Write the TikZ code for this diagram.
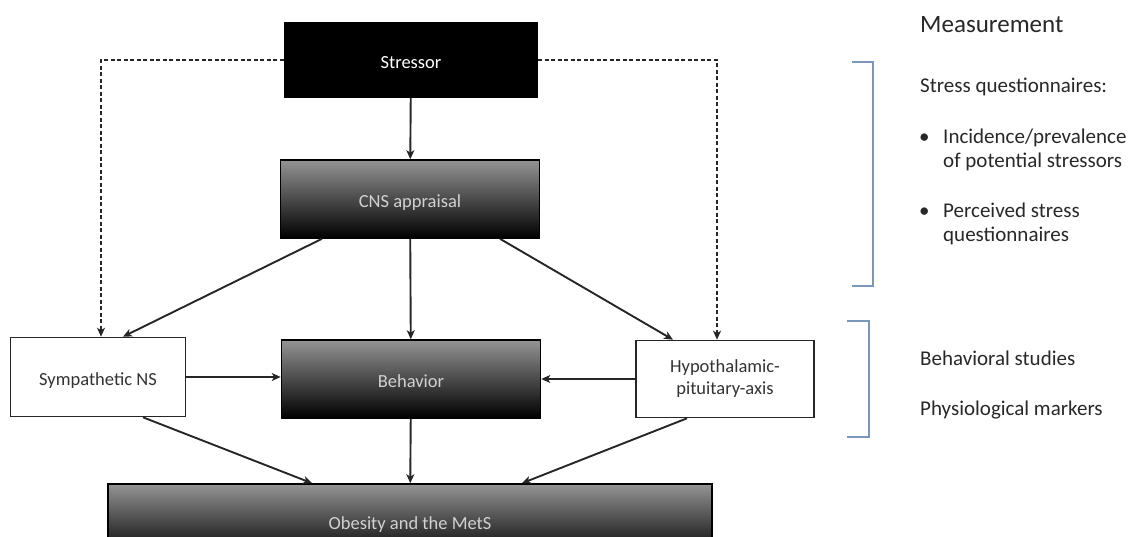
\documentclass[tikz,border=0pt]{standalone}
\usepackage{fontspec}
\setmainfont{Carlito}
\usepackage{tikz}
\usetikzlibrary{arrows.meta,positioning}
\definecolor{brackblue}{RGB}{120,150,190}
\definecolor{sidetext}{RGB}{40,40,40}

\begin{document}
\begin{tikzpicture}[x=1pt,y=-1pt,
  every node/.style={inner sep=0pt,font=\fontsize{18.5}{22}\selectfont},
  boxtext/.style={text height=17pt,text depth=0pt},
  blackbox/.style={boxtext,fill=black,text=white,minimum width=254pt,minimum height=76pt},
  shadebox/.style={boxtext,draw=black,line width=1.6pt,top color=black!42,bottom color=black,text=white!82!black,minimum width=259pt,minimum height=78pt},
  whitebox/.style={draw=black!85,line width=1.6pt,fill=white,text=black!80,minimum width=175pt,minimum height=79pt,align=center},
  flow/.style={line width=1.9pt,black!85,-{Stealth[length=9pt,width=8pt,inset=2.5pt]}},
  dflow/.style={flow,dash pattern=on 4pt off 2.5pt,line width=1.7pt},
  brack/.style={brackblue,line width=1.5pt},
  side/.style={anchor=base west,text=sidetext,font=\fontsize{21}{24}\selectfont}]
\useasboundingbox (0,0) rectangle (1134,536);
% boxes
\node[blackbox] (stressor) at (411,60) {Stressor};
\node[shadebox] (cns) at (410,199) {CNS appraisal};
\node[whitebox,boxtext] (symp) at (98,377) {Sympathetic NS};
\node[shadebox] (beh) at (411,379) {Behavior};
\node[whitebox,minimum width=178pt,minimum height=77pt] (hpa) at (725,379) {Hypothalamic-\\pituitary-axis};
\node[shadebox,minimum width=604pt,minimum height=74pt] (obes) at (410,521) {Obesity and the MetS};
% arrows
\draw[flow] (stressor) -- (cns);
\draw[dflow] (stressor.west) -| ([xshift=3pt]symp.north);
\draw[dflow] (stressor.east) -| ([xshift=-8pt]hpa.north);
\draw[flow] ([xshift=-88pt]cns.south) -- ([xshift=25pt]symp.north);
\draw[flow] (cns) -- (beh);
\draw[flow] ([xshift=90pt]cns.south) -- ([xshift=-52pt]hpa.north);
\draw[flow] (symp.east) -- (symp.east -| beh.west);
\draw[flow] (hpa.west) -- (hpa.west -| beh.east);
\draw[flow] ([xshift=45pt]symp.south) -- ([xshift=-98pt]obes.north);
\draw[flow] (beh) -- (obes);
\draw[flow] ([xshift=-38pt]hpa.south) -- ([xshift=112pt]obes.north);
% measurement side
\node[side,font=\fontsize{25}{28}\selectfont] (meas) at (920,32) {Measurement};
\coordinate (b1t) at (852,62);
\coordinate (b1b) at (852,286);
\draw[brack] (b1t) -- ++(21,0) |- (b1b);
\coordinate (b2t) at (847,321);
\coordinate (b2b) at (847,437);
\draw[brack] (b2t) -- ++(22,0) |- (b2b);
\node[side] (sq) at (920,92) {Stress questionnaires:};
\node[side] (bul1) at (919,143) {\textbullet};
\node[side] (inc1) at (943,143) {Incidence/prevalence};
\node[side] (inc2) at (943,167) {of potential stressors};
\node[side] (bul2) at (919,217) {\textbullet};
\node[side] (perc1) at (943,217) {Perceived stress};
\node[side] (perc2) at (943,241) {questionnaires};
\node[side] (bs) at (920,365) {Behavioral studies};
\node[side] (pm) at (920,415) {Physiological markers};
\end{tikzpicture}
\end{document}
